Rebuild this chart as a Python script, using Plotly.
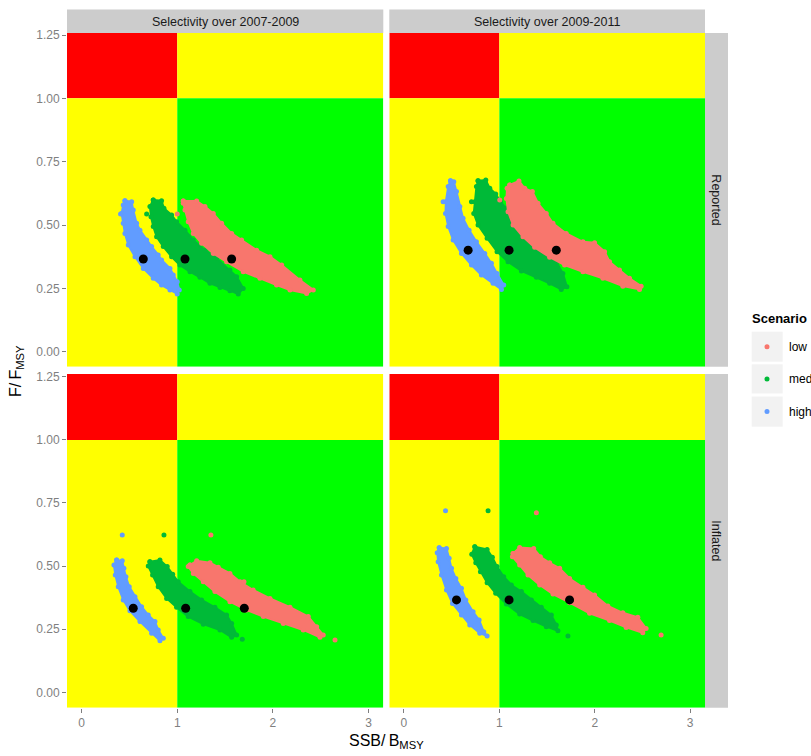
import plotly.graph_objects as go

# ---------------------------------------------------------------- labels
strip_top = ["Selectivity over 2007-2009", "Selectivity over 2009-2011"]
strip_right = ["Reported", "Inflated"]
scenarios = ["low", "med", "high"]
scenario_colors = {"low": "#F8766D", "med": "#00BA38", "high": "#619CFF"}
x_ticks = [0, 1, 2, 3]
y_ticks = [0.0, 0.25, 0.5, 0.75, 1.0, 1.25]
y_tick_text = ["0.00", "0.25", "0.50", "0.75", "1.00", "1.25"]

# ------------------------------------------- Reported, selectivity 2007-2009
# outline of each simulated (SSB/Bmsy, F/Fmsy) cloud, plus stray points and median
rep0709_high_ssb = [0.453, 0.523, 0.540, 0.575, 0.610, 0.680, 0.732, 0.801, 0.836, 0.924, 0.958, 1.000,
                    1.021, 1.000, 0.924, 0.836, 0.749, 0.645, 0.558, 0.488, 0.453, 0.435, 0.418, 0.435]
rep0709_high_f = [0.596, 0.592, 0.559, 0.507, 0.480, 0.441, 0.415, 0.382, 0.362, 0.329, 0.303, 0.276,
                  0.244, 0.228, 0.244, 0.263, 0.290, 0.329, 0.375, 0.421, 0.467, 0.507, 0.546, 0.579]
rep0709_med_ssb = [0.749, 0.836, 0.861, 0.941, 0.993, 1.081, 1.168, 1.290, 1.412, 1.551, 1.621, 1.690, 1.638,
                   1.551, 1.447, 1.342, 1.237, 1.133, 1.028, 0.941, 0.854, 0.784, 0.749, 0.725, 0.714]
rep0709_med_f = [0.599, 0.596, 0.566, 0.540, 0.513, 0.480, 0.441, 0.401, 0.369, 0.323, 0.296, 0.250, 0.228,
                 0.241, 0.254, 0.270, 0.294, 0.316, 0.342, 0.375, 0.415, 0.454, 0.494, 0.533, 0.573]
rep0709_low_ssb = [1.063, 1.203, 1.290, 1.377, 1.464, 1.569, 1.673, 1.830, 1.970, 2.092, 2.283, 2.423,
                   2.353, 2.179, 2.039, 1.865, 1.690, 1.516, 1.377, 1.255, 1.168, 1.115, 1.081, 1.063]
rep0709_low_f = [0.595, 0.595, 0.573, 0.546, 0.507, 0.467, 0.441, 0.401, 0.375, 0.342, 0.283, 0.244,
                 0.230, 0.244, 0.263, 0.290, 0.316, 0.355, 0.388, 0.428, 0.467, 0.513, 0.559, 0.586]
rep0709_stray_ssb = {"high": [0.407], "med": [0.680], "low": [1.000]}
rep0709_stray_f = {"high": [0.544], "med": [0.544], "low": [0.544]}
rep0709_median_ssb = {"low": 1.569, "med": 1.081, "high": 0.645}
rep0709_median_f = 0.366

# ------------------------------------------- Reported, selectivity 2009-2011
rep0911_high_ssb = [0.488, 0.523, 0.551, 0.586, 0.620, 0.683, 0.760, 0.847, 0.917, 0.976, 1.046,
                    1.022, 0.934, 0.812, 0.708, 0.603, 0.516, 0.464, 0.436, 0.439, 0.464]
rep0911_high_f = [0.675, 0.671, 0.632, 0.573, 0.527, 0.480, 0.434, 0.388, 0.349, 0.309, 0.263,
                  0.246, 0.270, 0.303, 0.342, 0.388, 0.441, 0.494, 0.546, 0.592, 0.652]
rep0911_med_ssb = [0.777, 0.858, 0.900, 0.962, 1.011, 1.074, 1.126, 1.231, 1.336, 1.440, 1.527, 1.597, 1.666,
                   1.708, 1.649, 1.527, 1.388, 1.231, 1.091, 0.976, 0.872, 0.777, 0.732, 0.743, 0.760]
rep0911_med_f = [0.675, 0.678, 0.645, 0.623, 0.592, 0.566, 0.533, 0.500, 0.461, 0.425, 0.395, 0.355, 0.309,
                 0.257, 0.246, 0.270, 0.294, 0.319, 0.355, 0.395, 0.448, 0.500, 0.546, 0.592, 0.652]
rep0911_low_ssb = [1.109, 1.206, 1.266, 1.346, 1.405, 1.492, 1.562, 1.701, 1.876, 1.998, 2.103, 2.155, 2.259,
                   2.364, 2.486, 2.469, 2.294, 2.085, 1.876, 1.684, 1.527, 1.370, 1.248, 1.144, 1.091, 1.074, 1.081]
rep0911_low_f = [0.658, 0.674, 0.645, 0.632, 0.586, 0.546, 0.507, 0.467, 0.434, 0.430, 0.395, 0.355, 0.323,
                 0.290, 0.259, 0.246, 0.259, 0.290, 0.316, 0.342, 0.373, 0.412, 0.454, 0.500, 0.553, 0.605, 0.645]
rep0911_stray_ssb = {"high": [0.411], "med": [0.708], "low": [1.004]}
rep0911_stray_f = {"high": [0.592], "med": [0.592], "low": [0.599]}
rep0911_median_ssb = {"low": 1.597, "med": 1.102, "high": 0.673}
rep0911_median_f = 0.401

# ------------------------------------------- Inflated, selectivity 2007-2009
inf0709_high_ssb = [0.366, 0.425, 0.442, 0.463, 0.498, 0.558, 0.627, 0.697, 0.767, 0.801, 0.854,
                    0.819, 0.732, 0.610, 0.505, 0.435, 0.383, 0.352, 0.338]
inf0709_high_f = [0.524, 0.521, 0.491, 0.458, 0.418, 0.379, 0.339, 0.306, 0.280, 0.247, 0.214,
                  0.204, 0.234, 0.280, 0.323, 0.366, 0.418, 0.465, 0.504]
inf0709_med_ssb = [0.714, 0.819, 0.895, 0.952, 1.010, 1.133, 1.255, 1.394, 1.516, 1.569, 1.621,
                   1.569, 1.447, 1.272, 1.115, 0.993, 0.889, 0.801, 0.742, 0.697]
inf0709_med_f = [0.517, 0.524, 0.498, 0.468, 0.438, 0.399, 0.366, 0.337, 0.306, 0.273, 0.227,
                 0.218, 0.247, 0.270, 0.300, 0.337, 0.372, 0.418, 0.465, 0.500]
inf0709_low_ssb = [1.133, 1.203, 1.342, 1.429, 1.551, 1.656, 1.795, 1.970, 2.179, 2.370, 2.458, 2.527,
                   2.493, 2.318, 2.109, 1.900, 1.726, 1.551, 1.394, 1.272, 1.168, 1.115]
inf0709_low_f = [0.504, 0.521, 0.513, 0.495, 0.471, 0.438, 0.405, 0.372, 0.337, 0.300, 0.260, 0.227,
                 0.218, 0.247, 0.273, 0.300, 0.326, 0.359, 0.399, 0.438, 0.471, 0.498]
inf0709_stray_ssb = {"high": [0.425], "med": [0.861, 1.680], "low": [1.352, 2.650, 1.698]}
inf0709_stray_f = {"high": [0.623], "med": [0.623, 0.210], "low": [0.623, 0.207, 0.438]}
inf0709_median_ssb = {"low": 1.701, "med": 1.088, "high": 0.540}
inf0709_median_f = 0.333

# ------------------------------------------- Inflated, selectivity 2009-2011
inf0911_high_ssb = [0.370, 0.446, 0.474, 0.499, 0.544, 0.603, 0.649, 0.725, 0.788, 0.837, 0.872,
                    0.795, 0.690, 0.603, 0.509, 0.446, 0.394, 0.359, 0.349]
inf0911_high_f = [0.573, 0.570, 0.531, 0.491, 0.451, 0.412, 0.366, 0.319, 0.286, 0.240, 0.223,
                  0.234, 0.267, 0.306, 0.352, 0.405, 0.465, 0.517, 0.553]
inf0911_med_ssb = [0.743, 0.872, 0.927, 0.976, 1.046, 1.126, 1.231, 1.336, 1.440, 1.545, 1.597, 1.614,
                   1.492, 1.353, 1.213, 1.074, 0.962, 0.872, 0.802, 0.753, 0.711]
inf0911_med_f = [0.577, 0.566, 0.535, 0.498, 0.458, 0.425, 0.399, 0.366, 0.337, 0.306, 0.267, 0.244,
                 0.260, 0.284, 0.310, 0.350, 0.392, 0.434, 0.478, 0.513, 0.547]
inf0911_low_ssb = [1.144, 1.213, 1.360, 1.430, 1.527, 1.632, 1.736, 1.876, 1.998, 2.137, 2.294, 2.451,
                   2.538, 2.503, 2.329, 2.155, 1.946, 1.736, 1.562, 1.423, 1.300, 1.213, 1.137]
inf0911_low_f = [0.550, 0.574, 0.570, 0.537, 0.513, 0.491, 0.451, 0.416, 0.385, 0.342, 0.315, 0.297,
                 0.253, 0.236, 0.257, 0.284, 0.313, 0.355, 0.389, 0.425, 0.465, 0.504, 0.537]
inf0911_stray_ssb = {"high": [0.436], "med": [0.882, 1.719], "low": [1.388, 2.695]}
inf0911_stray_f = {"high": [0.719], "med": [0.719, 0.223], "low": [0.711, 0.227]}
inf0911_median_ssb = {"low": 1.736, "med": 1.102, "high": 0.551}
inf0911_median_f = 0.366

# ------------------------------------------------------------ layout
W, H = 811, 756
X_RANGE = [-0.153, 3.155]
Y_RANGE_TOP = [-0.059, 1.258]
Y_RANGE_BOT = [-0.061, 1.261]

col_px = [(67, 383.3), (389.3, 705)]       # panel columns, pixels from left
row_px = [(33, 366.7), (374, 707.7)]       # panel rows, pixels from top


def px_x(p):
    return p / W


def px_y(p):
    return 1 - p / H


panels = [
    # (row, col, clouds, stray ssb, stray f, median ssb, median f)
    (0, 0, {"high": (rep0709_high_ssb, rep0709_high_f), "med": (rep0709_med_ssb, rep0709_med_f),
            "low": (rep0709_low_ssb, rep0709_low_f)},
     rep0709_stray_ssb, rep0709_stray_f, rep0709_median_ssb, rep0709_median_f),
    (0, 1, {"high": (rep0911_high_ssb, rep0911_high_f), "med": (rep0911_med_ssb, rep0911_med_f),
            "low": (rep0911_low_ssb, rep0911_low_f)},
     rep0911_stray_ssb, rep0911_stray_f, rep0911_median_ssb, rep0911_median_f),
    (1, 0, {"high": (inf0709_high_ssb, inf0709_high_f), "med": (inf0709_med_ssb, inf0709_med_f),
            "low": (inf0709_low_ssb, inf0709_low_f)},
     inf0709_stray_ssb, inf0709_stray_f, inf0709_median_ssb, inf0709_median_f),
    (1, 1, {"high": (inf0911_high_ssb, inf0911_high_f), "med": (inf0911_med_ssb, inf0911_med_f),
            "low": (inf0911_low_ssb, inf0911_low_f)},
     inf0911_stray_ssb, inf0911_stray_f, inf0911_median_ssb, inf0911_median_f),
]

fig = go.Figure()
shapes = []
annotations = []
FONT = "Liberation Sans, Arial, sans-serif"

for i, (r, c, clouds, s_ssb, s_f, m_ssb, m_f) in enumerate(panels):
    n = i + 1
    xa = "x" if n == 1 else f"x{n}"
    ya = "y" if n == 1 else f"y{n}"
    y_range = Y_RANGE_TOP if r == 0 else Y_RANGE_BOT

    # Kobe quadrants
    quads = [
        (X_RANGE[0], 1, 1, y_range[1], "#FF0000"),
        (1, X_RANGE[1], 1, y_range[1], "#FFFF00"),
        (X_RANGE[0], 1, y_range[0], 1, "#FFFF00"),
        (1, X_RANGE[1], y_range[0], 1, "#00FF00"),
    ]
    for x0, x1, y0, y1, col in quads:
        shapes.append(dict(type="rect", xref=xa, yref=ya, x0=x0, x1=x1, y0=y0, y1=y1,
                           fillcolor=col, line=dict(width=0), layer="below"))

    for sc in ["high", "med", "low"]:
        xs, ys = clouds[sc]
        colr = scenario_colors[sc]
        fig.add_trace(go.Scatter(
            x=xs + xs[:1], y=ys + ys[:1], xaxis=xa, yaxis=ya,
            mode="lines+markers", fill="toself", fillcolor=colr,
            line=dict(color=colr, width=2), marker=dict(color=colr, size=5),
            showlegend=False, hoverinfo="skip"))
        fig.add_trace(go.Scatter(
            x=s_ssb[sc], y=s_f[sc], xaxis=xa, yaxis=ya, mode="markers",
            marker=dict(color=colr, size=5), showlegend=False, hoverinfo="skip"))

    fig.add_trace(go.Scatter(
        x=[m_ssb[s] for s in scenarios], y=[m_f] * 3, xaxis=xa, yaxis=ya,
        mode="markers", marker=dict(color="black", size=9),
        showlegend=False, hoverinfo="skip"))

    x_dom = [px_x(col_px[c][0]), px_x(col_px[c][1])]
    y_dom = [px_y(row_px[r][1]), px_y(row_px[r][0])]
    axis_common = dict(showgrid=False, zeroline=False, showline=False, automargin=False,
                       tickcolor="#7F7F7F", ticklen=4, tickwidth=1,
                       tickfont=dict(family=FONT, size=12, color="#7F7F7F"))
    xkey = "xaxis" if n == 1 else f"xaxis{n}"
    ykey = "yaxis" if n == 1 else f"yaxis{n}"
    fig.layout[xkey] = dict(domain=x_dom, range=X_RANGE, anchor=ya, tickvals=x_ticks,
                            ticks="outside" if r == 1 else "", showticklabels=(r == 1),
                            **axis_common)
    fig.layout[ykey] = dict(domain=y_dom, range=y_range, anchor=xa, tickvals=y_ticks,
                            ticktext=y_tick_text,
                            ticks="outside" if c == 0 else "", showticklabels=(c == 0),
                            **axis_common)

# facet strips
for c in range(2):
    shapes.append(dict(type="rect", xref="paper", yref="paper",
                       x0=px_x(col_px[c][0]), x1=px_x(col_px[c][1]), y0=px_y(33), y1=px_y(9.5),
                       fillcolor="#CCCCCC", line=dict(width=0)))
    annotations.append(dict(text=strip_top[c], xref="paper", yref="paper",
                            x=px_x((col_px[c][0] + col_px[c][1]) / 2), y=px_y(21.5),
                            showarrow=False, xanchor="center", yanchor="middle",
                            font=dict(family=FONT, size=12.5, color="#1A1A1A")))
for r in range(2):
    shapes.append(dict(type="rect", xref="paper", yref="paper",
                       x0=px_x(705), x1=px_x(728), y0=px_y(row_px[r][1]), y1=px_y(row_px[r][0]),
                       fillcolor="#CCCCCC", line=dict(width=0)))
    annotations.append(dict(text=strip_right[r], xref="paper", yref="paper",
                            x=px_x(716.5), y=px_y((row_px[r][0] + row_px[r][1]) / 2),
                            showarrow=False, textangle=90, xanchor="center", yanchor="middle",
                            font=dict(family=FONT, size=12.5, color="#1A1A1A")))

# axis titles
annotations.append(dict(text="SSB/\u2009B<sub>MSY</sub>", xref="paper", yref="paper",
                        x=px_x(386), y=px_y(741), showarrow=False,
                        xanchor="center", yanchor="middle",
                        font=dict(family=FONT, size=16, color="black")))
annotations.append(dict(text="F/\u2009F<sub>MSY</sub>", xref="paper", yref="paper",
                        x=px_x(17), y=px_y(371), showarrow=False, textangle=-90,
                        xanchor="center", yanchor="middle",
                        font=dict(family=FONT, size=16, color="black")))

# legend
annotations.append(dict(text="<b>Scenario</b>", xref="paper", yref="paper",
                        x=px_x(750), y=px_y(318), showarrow=False,
                        xanchor="left", yanchor="middle",
                        font=dict(family=FONT, size=13, color="black")))
key_rows = [(331.7, 361.7), (364.3, 393.5), (396.5, 426.7)]
for (top, bot), sc in zip(key_rows, scenarios):
    shapes.append(dict(type="rect", xref="paper", yref="paper",
                       x0=px_x(751.7), x1=px_x(782.7), y0=px_y(bot), y1=px_y(top),
                       fillcolor="#F2F2F2", line=dict(width=0)))
    cy = (top + bot) / 2
    shapes.append(dict(type="circle", xref="paper", yref="paper",
                       x0=px_x(764.5), x1=px_x(769.5), y0=px_y(cy + 2.5), y1=px_y(cy - 2.5),
                       fillcolor=scenario_colors[sc], line=dict(width=0)))
    annotations.append(dict(text=sc, xref="paper", yref="paper",
                            x=px_x(787), y=px_y(cy), showarrow=False,
                            xanchor="left", yanchor="middle",
                            font=dict(family=FONT, size=12, color="black")))

fig.update_layout(
    width=W, height=H, margin=dict(l=0, r=0, t=0, b=0, pad=0, autoexpand=False),
    paper_bgcolor="white", plot_bgcolor="white",
    shapes=shapes, annotations=annotations, showlegend=False,
)

fig.write_html("out.html")
